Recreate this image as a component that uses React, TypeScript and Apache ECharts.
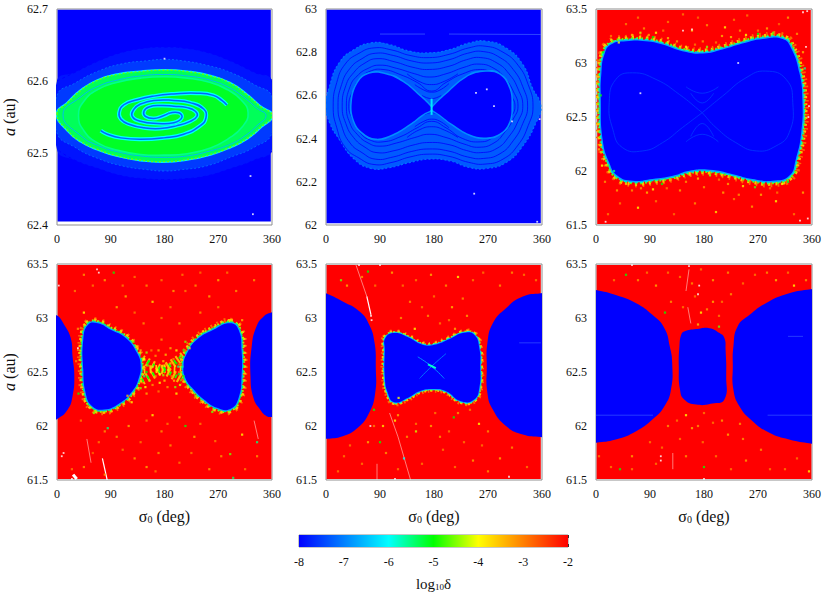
import React, { useEffect, useRef } from "react";
import * as echarts from "echarts";

type P = number[];
const FONT = '"Liberation Serif", "Times New Roman", serif';

// ---- colour scale and axes
const palette = ["#0000ff", "#0080ff", "#00ffff", "#00ff00", "#ffff00", "#ff8000", "#ff0000"];
const sigmaTicks = [0, 90, 180, 270, 360];
const colorMin = -8;
const colorMax = -2;
const yRanges = [
  [62.4, 62.7, 0.1],
  [62, 63, 0.2],
  [61.5, 63.5, 0.5],
  [61.5, 63.5, 0.5],
  [61.5, 63.5, 0.5],
  [61.5, 63.5, 0.5],
];

// ---- panel 1 (a = 62.4 .. 62.7)
const p1Field: P[] = [[1, 62.699], [358, 62.699], [358, 62.405], [1, 62.405]];
const p1HaloOuter: P[] = [[0, 62.6], [30, 62.612], [70, 62.628], [110, 62.64], [150, 62.646], [180, 62.647], [210, 62.646], [250, 62.64], [290, 62.628], [330, 62.612], [360, 62.6], [360, 62.505], [330, 62.49], [290, 62.478], [250, 62.468], [210, 62.464], [180, 62.463], [150, 62.464], [110, 62.468], [70, 62.478], [30, 62.49], [0, 62.505]];
const p1HaloInner: P[] = [[0, 62.58], [30, 62.597], [70, 62.614], [110, 62.624], [150, 62.628], [180, 62.63], [210, 62.628], [250, 62.622], [290, 62.612], [330, 62.595], [360, 62.578], [360, 62.528], [330, 62.508], [290, 62.494], [250, 62.482], [210, 62.477], [180, 62.475], [150, 62.477], [110, 62.482], [70, 62.492], [30, 62.508], [0, 62.528]];
const p1Eye: P[] = [[0, 62.554], [18, 62.57], [40, 62.587], [68, 62.601], [101, 62.609], [140, 62.613], [179, 62.615], [218, 62.613], [257, 62.607], [290, 62.597], [318, 62.581], [340, 62.565], [360, 62.552], [340, 62.535], [318, 62.52], [290, 62.508], [257, 62.498], [218, 62.491], [179, 62.488], [140, 62.49], [101, 62.496], [68, 62.505], [40, 62.516], [18, 62.531]];
const p1Ring: P[] = [[10, 62.553], [40, 62.578], [70, 62.593], [105, 62.602], [140, 62.607], [179, 62.609], [218, 62.607], [257, 62.601], [290, 62.59], [315, 62.576], [335, 62.562], [350, 62.552], [335, 62.538], [315, 62.524], [290, 62.512], [257, 62.503], [218, 62.496], [179, 62.494], [140, 62.496], [105, 62.501], [70, 62.51], [40, 62.524]];
const p1Core: P[] = [[36, 62.552], [45, 62.572], [68, 62.588], [100, 62.598], [140, 62.604], [179, 62.606], [218, 62.604], [257, 62.598], [285, 62.588], [308, 62.574], [320, 62.556], [310, 62.536], [287, 62.52], [257, 62.507], [218, 62.499], [179, 62.497], [140, 62.498], [100, 62.504], [68, 62.514], [45, 62.531]];
const p1ArmA: P[] = [[284.4, 62.5666], [276, 62.573], [262, 62.58], [234.5, 62.583], [195.6, 62.582], [162, 62.579], [134.4, 62.574], [112, 62.567], [104, 62.556], [107, 62.547], [120.6, 62.54], [145.6, 62.535], [173, 62.534], [201, 62.538], [223, 62.544], [234.5, 62.551], [231.7, 62.558], [218, 62.563], [195.6, 62.565], [173, 62.566], [154, 62.564], [145.6, 62.558], [148, 62.551], [162, 62.548], [176, 62.551], [187, 62.555]];
const p1ArmB: P[] = [[73.3, 62.531], [84.4, 62.526], [106.7, 62.521], [140, 62.519], [179, 62.521], [212, 62.526], [240, 62.538], [249.5, 62.549], [245.6, 62.561], [223, 62.57], [195.6, 62.573], [162, 62.573], [140, 62.568], [129, 62.561], [126, 62.551], [140, 62.544], [168, 62.541], [195.6, 62.542], [209, 62.549], [204, 62.556], [187, 62.555]];
const p1White: P[] = [[180, 62.631], [324, 62.468], [328, 62.415]];

// ---- panel 2 (a = 62 .. 63)
const p2Field: P[] = [[1, 62.997], [358, 62.997], [358, 62.008], [1, 62.008]];
const p2Band: P[] = [[0, 62.551], [6, 62.643], [22, 62.751], [47, 62.812], [75, 62.843], [106, 62.835], [139, 62.805], [172, 62.797], [206, 62.812], [239, 62.843], [267, 62.851], [300, 62.82], [328, 62.743], [344, 62.635], [358, 62.551], [350, 62.474], [328, 62.366], [300, 62.289], [267, 62.262], [239, 62.266], [206, 62.297], [172, 62.305], [139, 62.289], [106, 62.266], [75, 62.262], [47, 62.305], [22, 62.397], [6, 62.474]];
const p2Ring1: P[] = [[12, 62.55], [18, 62.66], [32, 62.745], [55, 62.795], [80, 62.82], [110, 62.81], [140, 62.785], [172, 62.775], [205, 62.79], [238, 62.82], [265, 62.828], [295, 62.8], [320, 62.74], [337, 62.65], [345, 62.55], [337, 62.46], [320, 62.37], [295, 62.305], [265, 62.282], [238, 62.29], [205, 62.318], [172, 62.328], [140, 62.315], [110, 62.29], [80, 62.28], [55, 62.31], [32, 62.36], [18, 62.45]];
const p2Ring2: P[] = [[20, 62.55], [26, 62.65], [40, 62.725], [60, 62.77], [82, 62.795], [112, 62.785], [142, 62.76], [172, 62.75], [205, 62.765], [236, 62.795], [262, 62.803], [290, 62.775], [312, 62.72], [328, 62.64], [336, 62.55], [328, 62.47], [312, 62.39], [290, 62.33], [262, 62.308], [236, 62.315], [205, 62.342], [172, 62.352], [142, 62.34], [112, 62.315], [82, 62.305], [60, 62.335], [40, 62.38], [26, 62.46]];
const p2Ring3: P[] = [[27, 62.55], [33, 62.645], [46, 62.705], [65, 62.75], [85, 62.77], [115, 62.755], [145, 62.73], [172, 62.72], [205, 62.735], [234, 62.765], [258, 62.775], [285, 62.75], [305, 62.7], [320, 62.63], [328, 62.55], [320, 62.48], [305, 62.41], [285, 62.355], [258, 62.335], [234, 62.345], [205, 62.372], [172, 62.382], [145, 62.37], [115, 62.345], [85, 62.335], [65, 62.36], [46, 62.405], [33, 62.47]];
const p2Ring4: P[] = [[34, 62.55], [40, 62.64], [52, 62.69], [70, 62.725], [90, 62.74], [118, 62.725], [148, 62.7], [172, 62.685], [200, 62.7], [230, 62.73], [255, 62.745], [280, 62.725], [298, 62.68], [312, 62.62], [320, 62.55], [312, 62.49], [298, 62.43], [280, 62.38], [255, 62.36], [230, 62.375], [200, 62.405], [172, 62.42], [148, 62.405], [118, 62.38], [90, 62.365], [70, 62.38], [52, 62.42], [40, 62.47]];
const p2Ring5: P[] = [[38, 62.55], [46, 62.63], [56, 62.675], [72, 62.71], [95, 62.72], [125, 62.695], [152, 62.66], [176, 62.62], [200, 62.66], [228, 62.7], [258, 62.72], [278, 62.7], [295, 62.66], [306, 62.61], [315, 62.55], [306, 62.49], [295, 62.45], [278, 62.405], [258, 62.385], [228, 62.4], [200, 62.45], [176, 62.48], [152, 62.45], [125, 62.41], [95, 62.385], [72, 62.395], [56, 62.43], [46, 62.48]];
const p2ArcT1: P[] = [[135, 62.7], [155, 62.665], [176, 62.65], [197, 62.665], [220, 62.7]];
const p2ArcT2: P[] = [[148, 62.65], [163, 62.625], [176, 62.615], [190, 62.625], [205, 62.655]];
const p2ArcT3: P[] = [[160, 62.6], [176, 62.585], [192, 62.6]];
const p2ArcB1: P[] = [[135, 62.405], [155, 62.44], [176, 62.455], [197, 62.44], [220, 62.405]];
const p2ArcB2: P[] = [[148, 62.455], [163, 62.48], [176, 62.49], [190, 62.48], [205, 62.45]];
const p2ArcB3: P[] = [[160, 62.505], [176, 62.52], [192, 62.505]];
const p2LobeL: P[] = [[176, 62.543], [156, 62.597], [128, 62.662], [100, 62.697], [72, 62.7], [53, 62.658], [43, 62.566], [47, 62.482], [61, 62.428], [83, 62.4], [111, 62.42], [139, 62.466], [161, 62.512], [176, 62.535]];
const p2LobeR: P[] = [[177, 62.543], [200, 62.605], [233, 62.682], [261, 62.708], [289, 62.697], [306, 62.628], [309, 62.551], [306, 62.482], [292, 62.428], [267, 62.405], [239, 62.42], [211, 62.466], [189, 62.512], [177, 62.535]];
const p2Cross: P[] = [[176, 62.585], [176, 62.51]];
const p2FaintLine: P[] = [[90, 62.884], [165, 62.884]];
const p2FaintLine2: P[] = [[205, 62.884], [358, 62.882]];
const p2White: P[] = [[250, 62.612], [268, 62.628], [280, 62.55], [310, 62.48], [247, 62.145], [352, 62.015], [356, 62.49]];

// ---- panel 3
const p3Field: P[] = [[2, 63.49], [358, 63.49], [358, 61.51], [2, 61.51]];
const p3Blue: P[] = [[14, 63.078], [25, 63.171], [50, 63.202], [83, 63.202], [111, 63.171], [144, 63.109], [178, 63.088], [211, 63.125], [244, 63.18], [278, 63.223], [311, 63.223], [325, 63.14], [339, 62.909], [344, 62.663], [342, 62.355], [333, 62.109], [322, 61.955], [294, 61.909], [261, 61.925], [228, 61.971], [189, 62.011], [156, 62.002], [128, 61.955], [94, 61.925], [61, 61.909], [36, 61.955], [22, 62.078], [11, 62.294], [8, 62.663], [9, 62.909]];
const p3EightL: P[] = [[177, 62.54], [139, 62.709], [100, 62.848], [61, 62.909], [33, 62.848], [22, 62.632], [28, 62.386], [44, 62.217], [78, 62.186], [111, 62.263], [144, 62.402], [177, 62.54]];
const p3EightR: P[] = [[177, 62.54], [211, 62.694], [250, 62.863], [283, 62.925], [317, 62.848], [328, 62.632], [322, 62.355], [300, 62.232], [267, 62.186], [233, 62.263], [200, 62.402], [177, 62.54]];
const p3ArcT: P[] = [[158, 62.72], [177, 62.63], [196, 62.72]];
const p3ArcT2: P[] = [[150, 62.78], [177, 62.72], [204, 62.78]];
const p3ArcB: P[] = [[158, 62.32], [177, 62.44], [196, 62.32]];
const p3ArcB2: P[] = [[150, 62.27], [177, 62.34], [204, 62.27]];
const p3Specks: P[] = [[120, 63.38, -3], [170, 63.42, -2.9], [160, 63.3, -3.4], [230, 63.4, -3], [215, 63.33, -4], [270, 63.3, -3], [305, 63.36, -2.8], [335, 63.27, -3.2], [80, 63.32, -3.2], [50, 63.36, -3], [100, 63.28, -4], [95, 63.24, -5], [60, 63.26, -3.5], [135, 63.2, -3.3], [150, 63.15, -4], [165, 63.17, -3], [185, 63.15, -4.5], [200, 63.19, -3], [225, 63.24, -3.5], [250, 63.26, -4], [270, 63.27, -5], [295, 63.28, -4.6], [38, 63.19, -4], [25, 63.25, -3], [12, 63.1, -5], [345, 63.1, -3.4], [348, 62.95, -5.6], [8, 62.7, -5], [5, 62.2, -3.4], [10, 62.05, -4], [30, 62, -5.5], [50, 61.88, -3.5], [75, 61.84, -3.2], [95, 61.83, -4], [110, 61.88, -5], [125, 61.92, -3], [150, 61.9, -3.2], [170, 61.93, -3.6], [190, 61.96, -4.5], [205, 61.92, -3], [220, 61.88, -3.3], [245, 61.86, -3.8], [265, 61.85, -4.7], [290, 61.84, -3], [310, 61.88, -4], [320, 61.9, -5.2], [40, 61.7, -3], [20, 61.6, -3], [70, 61.66, -4], [100, 61.72, -3], [130, 61.6, -2.9], [165, 61.7, -3.2], [200, 61.62, -3.8], [230, 61.74, -3], [260, 61.67, -3.3], [300, 61.72, -4], [330, 61.6, -3], [345, 61.8, -3.4], [70, 63.42, -3], [145, 63.45, -3], [185, 63.35, -3.2], [252, 63.44, -3], [320, 63.42, -3.3], [112, 63.3, -3], [88, 63.26, -3.3], [74, 63.28, -4.2], [120, 63.23, -3.5], [178, 63.2, -3.2], [210, 63.25, -3.4], [240, 63.3, -3.2], [285, 63.32, -3.4], [60, 61.82, -3.2], [85, 61.8, -3.5], [118, 61.84, -3], [140, 61.82, -3.3], [180, 61.85, -3.2], [212, 61.8, -3.4], [238, 61.78, -3.2], [275, 61.78, -3.4], [302, 61.8, -3], [35, 61.82, -3.3], [15, 61.9, -3.2]];
const p3White: P[] = [[160, 63.31], [237, 63.0], [74, 62.72], [350, 63.15], [355, 62.6], [354, 62.5], [353, 61.56], [16, 61.53], [340, 61.54], [345, 63.47], [352, 63.48], [145, 63.3]];

// ---- panel 4
const p4Field: P[] = [[1, 63.49], [359, 63.49], [359, 61.51], [1, 61.51]];
const p4Left: P[] = [[-6, 63.02], [1, 63.02], [12, 62.937], [23, 62.814], [26, 62.645], [29, 62.46], [26, 62.275], [18, 62.152], [1, 62.066], [-6, 62.066]];
const p4Right: P[] = [[366, 63.051], [359, 63.051], [346, 63.014], [334, 62.921], [326, 62.737], [324, 62.46], [329, 62.26], [340, 62.152], [351, 62.09], [359, 62.084], [366, 62.084]];
const p4LobeL: P[] = [[52, 62.937], [68, 62.952], [90, 62.891], [115, 62.814], [134, 62.675], [140, 62.568], [137, 62.445], [126, 62.322], [104, 62.208], [79, 62.152], [59, 62.183], [48, 62.306], [44, 62.522], [44, 62.798]];
const p4LobeR: P[] = [[290, 62.952], [304, 62.891], [309, 62.706], [309, 62.46], [304, 62.26], [290, 62.158], [268, 62.168], [246, 62.245], [229, 62.337], [215, 62.445], [212, 62.568], [218, 62.675], [234, 62.798], [262, 62.891]];
const p4CloudA: P[] = [[142, 62.62], [165, 62.55], [185, 62.5], [212, 62.42]];
const p4CloudB: P[] = [[142, 62.42], [165, 62.49], [188, 62.56], [212, 62.65]];
const p4CloudC: P[] = [[145, 62.52], [178, 62.53], [210, 62.52]];
const p4Cloud: P[] = [[146, 62.62, -4], [150, 62.5, -5], [155, 62.42, -4.4], [160, 62.55, -3.8], [165, 62.65, -3.2], [172, 62.48, -4], [178, 62.6, -3.5], [180, 62.42, -3.6], [186, 62.52, -4.2], [192, 62.46, -3], [195, 62.62, -3], [200, 62.58, -5], [204, 62.48, -5.2], [207, 62.65, -4.6], [210, 62.55, -5.5], [206, 62.38, -4.2], [140, 62.35, -4.5], [135, 62.72, -3.8], [128, 62.78, -4.6], [215, 62.78, -4.5], [222, 62.72, -3.8], [232, 62.28, -4.5], [125, 62.22, -4], [118, 62.28, -3.5], [150, 62.3, -3.4], [170, 62.32, -3], [158, 62.7, -3], [175, 62.8, -3.2], [190, 62.72, -3.4], [200, 62.3, -4], [146, 62.46, -5.4], [154, 62.6, -5], [168, 62.52, -4], [196, 62.42, -3.5], [203, 62.55, -5.6], [45, 63.05, -4], [35, 62.9, -3.2], [32, 62.6, -3], [36, 62.3, -5], [62, 62.12, -4.5], [260, 62.13, -4.6], [310, 62.98, -3.4], [148, 62.36, -4], [160, 62.38, -3.2], [172, 62.4, -4], [185, 62.36, -3.2], [198, 62.36, -4.5], [140, 62.7, -3.4], [150, 62.68, -4.4], [170, 62.7, -3.4], [182, 62.66, -3.5], [200, 62.7, -4], [212, 62.7, -4.8], [152, 62.56, -4.6], [180, 62.56, -4], [190, 62.58, -3.6], [165, 62.46, -3.2], [178, 62.47, -4.4], [212, 62.46, -5]];
const p4Specks: P[] = [[95, 63.42, -5], [130, 63.38, -3], [150, 63.3, -3.2], [210, 63.4, -3], [240, 63.42, -2.9], [270, 63.35, -3.4], [300, 63.25, -3.2], [115, 63.2, -3.5], [160, 63.15, -3.8], [215, 63.25, -3], [255, 63.2, -3.4], [190, 63.1, -3], [60, 63.3, -3], [30, 63.25, -3], [40, 62.05, -3], [80, 61.95, -3.2], [120, 62, -3.4], [85, 61.98, -5.5], [160, 62.1, -4], [185, 62.02, -3], [215, 62, -5], [230, 61.9, -3.4], [265, 61.86, -3], [310, 61.92, -4], [335, 61.85, -5.5], [140, 61.85, -3], [170, 61.75, -3.2], [110, 61.78, -3], [60, 61.75, -2.8], [25, 61.6, -3], [80, 61.55, -3.3], [150, 61.62, -3.4], [205, 61.66, -3], [255, 61.6, -3.3], [290, 61.74, -4.6], [295, 61.52, -5.4], [335, 61.72, -3.2], [165, 61.58, -3], [45, 63.4, -3.2], [80, 63.35, -3.3], [110, 63.3, -3], [175, 63.35, -3], [195, 63.25, -3.3], [232, 63.3, -3.2], [285, 63.42, -3], [330, 63.35, -3.2], [175, 63.0, -3], [145, 62.95, -3.2], [205, 62.95, -3.3], [130, 63.05, -3], [240, 63.05, -3.2], [100, 63.1, -3.4], [270, 63.1, -3], [150, 62.05, -3], [175, 61.95, -3.2], [205, 62.08, -3.3], [240, 62.02, -3], [100, 61.9, -3.2], [70, 61.85, -3], [45, 61.62, -3.2], [130, 61.7, -3.3], [190, 61.82, -3.2], [225, 61.75, -3], [275, 61.72, -3.2], [315, 61.6, -3]];
const p4GapA: P[] = [[50, 61.88], [57, 61.66]];
const p4GapB: P[] = [[76, 61.7], [84, 61.5]];
const p4GapC: P[] = [[330, 62.05], [337, 61.88]];
const p4GapD: P[] = [[27, 61.55], [33, 61.51]];
const p4White: P[] = [[8, 61.72], [11, 61.75], [35, 62.72], [28, 61.54], [25, 61.51], [67, 63.45], [70, 63.42], [3, 63.3]];

// ---- panel 5
const p5Field: P[] = [[1, 63.49], [358, 63.49], [358, 61.51], [1, 61.51]];
const p5Left: P[] = [[-6, 63.229], [0, 63.229], [28, 63.152], [56, 63.06], [72, 62.937], [81, 62.768], [83, 62.552], [82, 62.306], [72, 62.122], [53, 61.983], [28, 61.906], [0, 61.881], [-6, 61.881]];
const p5Right: P[] = [[366, 63.229], [358, 63.229], [328, 63.198], [300, 63.091], [278, 62.952], [269, 62.768], [268, 62.552], [269, 62.306], [278, 62.152], [300, 62], [328, 61.921], [358, 61.897], [366, 61.897]];
const p5Mid: P[] = [[99, 62.814], [114, 62.86], [136, 62.823], [161, 62.752], [181, 62.752], [206, 62.805], [228, 62.86], [247, 62.845], [256, 62.706], [257, 62.552], [256, 62.368], [247, 62.245], [225, 62.229], [200, 62.322], [178, 62.343], [156, 62.322], [136, 62.26], [114, 62.22], [103, 62.306], [98, 62.46], [98, 62.706]];
const p5CrossA: P[] = [[153, 62.64], [176, 62.552], [197, 62.44]];
const p5CrossB: P[] = [[156, 62.44], [176, 62.552], [200, 62.67]];
const p5CrossC: P[] = [[170, 62.57], [183, 62.535]];
const p5GapA: P[] = [[50, 63.49], [68, 63.2]];
const p5GapA2: P[] = [[68, 63.2], [75, 63.03]];
const p5GapB: P[] = [[106, 62.12], [120, 61.9], [141, 61.5]];
const p5GapC: P[] = [[85, 61.65], [85, 61.5]];
const p5GapD: P[] = [[322, 62.77], [358, 62.77]];
const p5Specks: P[] = [[70, 63.43, -5], [82, 63.3, -3], [25, 63.35, -4.6], [35, 63.3, -3.4], [110, 63.42, -3.4], [150, 63.35, -3], [175, 63.4, -3.4], [220, 63.38, -4], [262, 63.42, -3], [290, 63.3, -3.2], [330, 63.4, -3], [160, 63.1, -3], [210, 63.1, -3.5], [125, 63.0, -3.2], [235, 63.02, -3.3], [190, 62.95, -3], [148, 62.9, -4], [215, 62.9, -3.4], [120, 62.1, -3.4], [115, 62.05, -4], [182, 62.12, -3], [213, 62.08, -5], [240, 62.15, -3], [255, 62.02, -4], [150, 61.95, -4.2], [190, 61.9, -3.2], [230, 61.85, -3], [270, 61.95, -3.2], [80, 62, -3], [70, 61.85, -3.4], [30, 61.72, -3], [60, 61.65, -3], [90, 61.85, -5], [130, 61.7, -6], [120, 61.6, -3], [160, 61.65, -3], [195, 61.78, -3], [245, 61.68, -3.3], [290, 61.7, -3.4], [335, 61.62, -3], [95, 62, -3.8], [121, 62.26, -4], [80, 62.15, -5], [60, 63.38, -3.2], [128, 63.3, -3], [200, 63.3, -3.2], [245, 63.35, -3], [310, 63.42, -3.2], [350, 63.35, -3], [140, 63.15, -3.2], [180, 63.2, -3], [228, 63.18, -3.2], [170, 63.02, -3.2], [205, 62.98, -3], [150, 62.02, -3], [175, 62, -3.3], [220, 62.12, -3.2], [205, 61.95, -3], [135, 61.9, -3.2], [260, 61.82, -3], [310, 61.8, -3.2], [40, 61.82, -3], [100, 61.75, -3.2], [215, 61.62, -3], [270, 61.58, -3.2], [20, 61.58, -3]];
const p5White: P[] = [[76, 62.98], [75, 63.02], [74, 62.0], [305, 61.53], [115, 61.51], [90, 63.49], [55, 63.49]];

// ---- panel 6
const p6Field: P[] = [[1, 63.49], [359, 63.49], [359, 61.51], [1, 61.51]];
const p6Left: P[] = [[-6, 63.26], [0, 63.26], [33, 63.214], [67, 63.137], [94, 63.029], [114, 62.906], [123, 62.737], [127, 62.583], [125, 62.337], [114, 62.183], [94, 62.06], [67, 61.952], [33, 61.875], [0, 61.845], [-6, 61.845]];
const p6Right: P[] = [[366, 63.266], [358, 63.266], [322, 63.229], [283, 63.137], [256, 63.029], [236, 62.921], [229, 62.737], [228, 62.552], [229, 62.337], [239, 62.183], [261, 62.045], [289, 61.937], [322, 61.875], [358, 61.838], [366, 61.838]];
const p6Mid: P[] = [[147, 62.875], [167, 62.897], [189, 62.906], [206, 62.86], [214, 62.814], [216, 62.706], [217, 62.46], [214, 62.245], [194, 62.208], [167, 62.198], [147, 62.245], [140, 62.337], [138, 62.552], [139, 62.737], [142, 62.845]];
const p6GapA: P[] = [[0, 62.1], [95, 62.1]];
const p6GapB: P[] = [[286, 62.1], [360, 62.1]];
const p6GapC: P[] = [[320, 62.83], [345, 62.83]];
const p6GapD: P[] = [[128, 61.75], [128, 61.6]];
const p6GapE: P[] = [[153, 63.1], [158, 62.95]];
const p6GapF: P[] = [[155, 63.45], [150, 63.25]];
const p6Specks: P[] = [[50, 63.4, -5], [30, 63.35, -3], [85, 63.42, -3], [100, 63.3, -3.4], [140, 63.38, -3], [175, 63.45, -3], [195, 63.35, -3.3], [220, 63.42, -3.2], [265, 63.4, -3], [300, 63.35, -3.5], [330, 63.3, -4], [125, 63.15, -3.2], [165, 63.2, -3], [195, 63.15, -3.4], [225, 63.22, -3.2], [175, 63.05, -4], [205, 63.02, -3], [115, 63.05, -5], [205, 62.92, -4.6], [170, 62.94, -3.5], [150, 62.1, -4], [180, 62.12, -3], [195, 62.03, -3], [160, 61.98, -3.4], [120, 62, -3.2], [240, 62.02, -3.2], [220, 61.92, -3.4], [90, 61.85, -3], [60, 61.72, -3.3], [40, 61.6, -5], [100, 61.65, -3], [180, 61.62, -5], [200, 61.72, -3], [250, 61.68, -3.3], [290, 61.6, -3], [335, 61.7, -3], [355, 61.58, -4], [5, 61.72, -3], [178, 61.85, -3], [70, 63.35, -3.2], [120, 63.42, -3], [160, 63.32, -3.2], [245, 63.32, -3], [285, 63.42, -3.2], [320, 63.42, -3], [350, 63.35, -3.2], [145, 63.1, -3], [185, 63.08, -3.2], [210, 63.15, -3], [135, 62.05, -3], [170, 62, -3.2], [210, 62.05, -3.3], [140, 61.88, -3], [245, 61.88, -3.2], [110, 61.8, -3], [60, 61.6, -3], [25, 61.62, -3], [150, 61.72, -3.2], [225, 61.6, -3], [275, 61.78, -3.2], [315, 61.6, -3]];
const p6White: P[] = [[108, 61.72], [108, 61.68], [170, 63.22], [172, 63.3], [155, 63.48], [60, 63.49], [180, 61.51]];

// ---- layer helpers
type Layer = { pts: P[]; level: number; fill?: boolean; width?: number; dash?: number[]; closed?: boolean; smooth?: number; color?: string };
const ROUND = 0.5;
const fillOf = (pts: P[], level: number, smooth = ROUND): Layer => ({ pts, level, fill: true, closed: true, smooth });
const ringOf = (pts: P[], level: number, width: number, dash?: number[]): Layer => ({ pts, level, width, dash, closed: true, smooth: ROUND });
const lineOf = (pts: P[], level: number, width: number, dash?: number[]): Layer => ({ pts, level, width, dash, closed: false, smooth: ROUND });
const gapOf = (pts: P[], width = 0.8, color = "rgba(255,225,215,0.7)"): Layer => ({ pts, level: -2, width, closed: false, smooth: 0, color });
const FAINT_BLUE = "rgba(90,140,255,0.7)";
const fringed = (pts: P[], near: number, mid: number, w: number): Layer[] => [
  ringOf(pts, -2.8, w * 4.2, [1.6, 5.3]),
  ringOf(pts, -3.5, w * 3.2, [2.1, 4.7]),
  ringOf(pts, mid, w * 2.3, [1.7, 3.1]),
  ringOf(pts, near, w * 1.5, [3.3, 1.9]),
  ringOf(pts, -6.7, w * 0.9),
  fillOf(pts, -8),
];

const panelLayers: Layer[][] = [
  [
    fillOf(p1Field, -8, 0),
    fillOf(p1HaloOuter, -7.85),
    lineOf(p1HaloOuter, -8, 1, [3, 3]),
    fillOf(p1HaloInner, -7.55),
    ringOf(p1HaloInner, -7.2, 1, [2, 2]),
    ringOf(p1Eye, -6.1, 2.5),
    fillOf(p1Eye, -5.35),
    ringOf(p1Eye, -4.6, 1.4, [2, 2]),
    ringOf(p1Ring, -6.6, 0.9),
    fillOf(p1Core, -5.15),
    ringOf(p1Core, -5.55, 1.6),
    lineOf(p1ArmA, -6.0, 4),
    lineOf(p1ArmB, -6.0, 4),
    lineOf(p1ArmA, -7.2, 1.5),
    lineOf(p1ArmB, -7.2, 1.5),
  ],
  [
    fillOf(p2Field, -8, 0),
    fillOf(p2Band, -7.3),
    ringOf(p2Band, -7.1, 1.2, [2, 2]),
    ringOf(p2Ring1, -8, 0.8),
    ringOf(p2Ring2, -8, 0.8),
    ringOf(p2Ring3, -8, 0.8),
    ringOf(p2Ring4, -8, 0.8),
    ringOf(p2Ring5, -8, 0.8),
    lineOf(p2ArcT1, -8, 0.8),
    lineOf(p2ArcT2, -8, 0.8),
    lineOf(p2ArcT3, -8, 0.8),
    lineOf(p2ArcB1, -8, 0.8),
    lineOf(p2ArcB2, -8, 0.8),
    lineOf(p2ArcB3, -8, 0.8),
    ringOf(p2LobeL, -6.9, 3),
    ringOf(p2LobeR, -6.9, 3),
    fillOf(p2LobeL, -8, 0.4),
    fillOf(p2LobeR, -8, 0.4),
    lineOf(p2Cross, -6.2, 2),
    gapOf(p2FaintLine, 0.7, FAINT_BLUE),
    gapOf(p2FaintLine2, 0.7, FAINT_BLUE),
  ],
  [
    fillOf(p3Field, -2, 0),
    ...fringed(p3Blue, -5.7, -4.6, 3),
    ringOf(p3EightL, -7.6, 0.9),
    ringOf(p3EightR, -7.6, 0.9),
    lineOf(p3ArcT, -7.6, 0.9),
    lineOf(p3ArcT2, -7.6, 0.9),
    lineOf(p3ArcB, -7.6, 0.9),
    lineOf(p3ArcB2, -7.6, 0.9),
  ],
  [
    fillOf(p4Field, -2, 0),
    lineOf(p4CloudA, -3.4, 9, [2.1, 3.7]),
    lineOf(p4CloudB, -3.4, 9, [2.1, 3.7]),
    lineOf(p4CloudC, -3.6, 8, [1.7, 4.3]),
    lineOf(p4CloudA, -4.9, 4, [1.9, 4.3]),
    lineOf(p4CloudB, -4.9, 4, [1.9, 4.3]),
    fillOf(p4Left, -8),
    fillOf(p4Right, -8),
    ...fringed(p4LobeL, -5.4, -4.4, 2.6),
    ...fringed(p4LobeR, -5.4, -4.4, 2.6),
    gapOf(p4GapA),
    gapOf(p4GapB, 1.2, "#fff"),
    gapOf(p4GapC),
    gapOf(p4GapD, 3, "#fff"),
  ],
  [
    fillOf(p5Field, -2, 0),
    fillOf(p5Left, -8),
    fillOf(p5Right, -8),
    ...fringed(p5Mid, -5.8, -4.4, 1.8),
    lineOf(p5CrossA, -6.9, 1),
    lineOf(p5CrossB, -7.1, 1),
    lineOf(p5CrossC, -5.8, 2),
    gapOf(p5GapA),
    gapOf(p5GapA2, 1.2, "#fff"),
    gapOf(p5GapB),
    gapOf(p5GapC),
    gapOf(p5GapD, 0.6, FAINT_BLUE),
  ],
  [
    fillOf(p6Field, -2, 0),
    fillOf(p6Left, -8),
    fillOf(p6Right, -8),
    fillOf(p6Mid, -8),
    gapOf(p6GapA, 0.6, FAINT_BLUE),
    gapOf(p6GapB, 0.6, FAINT_BLUE),
    gapOf(p6GapC, 0.6, FAINT_BLUE),
    gapOf(p6GapD),
    gapOf(p6GapE),
    gapOf(p6GapF),
  ],
];

const panelSpecks: P[][] = [[], [], p3Specks, [...p4Cloud, ...p4Specks], p5Specks, p6Specks];
const panelWhite: P[][] = [p1White, p2White, p3White, p4White, p5White, p6White];

// ---- layout
const gridLeft = [56, 326, 596];
const gridTop = [9, 264];
const gridSize = 216;

export default function App() {
  const ref = useRef<HTMLDivElement>(null);
  useEffect(() => {
    const chart = echarts.init(ref.current!, undefined, { renderer: "svg" });
    const grids: any[] = [];
    const xAxes: any[] = [];
    const yAxes: any[] = [];
    const series: any[] = [];
    const mapped: number[] = [];
    const frame = "#8f8f8f";
    const labelStyle = { color: "#111", fontFamily: FONT, fontSize: 12 };
    const nameRich = {
      i: { fontFamily: FONT, fontSize: 16, fontStyle: "italic", color: "#111" },
      t: { fontFamily: FONT, fontSize: 16, color: "#111" },
      s: { fontFamily: FONT, fontSize: 10, color: "#111", verticalAlign: "bottom", padding: [6, 0, 0, 0] },
    };

    yRanges.forEach((range, i) => {
      const col = i % 3;
      const row = i < 3 ? 0 : 1;
      grids.push({ show: true, left: gridLeft[col], top: gridTop[row], width: gridSize, height: gridSize, borderColor: frame, borderWidth: 1, backgroundColor: "#fff" });
      xAxes.push({
        gridIndex: i, type: "value", min: 0, max: 360, interval: 90,
        axisLine: { show: false }, axisTick: { show: false }, splitLine: { show: false },
        axisLabel: { ...labelStyle, margin: 8, customValues: sigmaTicks },
        ...(row === 1 ? {
          name: "{t|σ}{s|0}{t| (deg)}", nameLocation: "middle", nameGap: 28,
          nameTextStyle: { rich: nameRich },
        } : {}),
      });
      yAxes.push({
        gridIndex: i, type: "value", min: range[0], max: range[1], interval: range[2],
        axisLine: { show: false }, axisTick: { show: false }, splitLine: { show: false },
        axisLabel: { ...labelStyle, margin: 9 },
        ...(col === 0 ? {
          name: "{i|a}{t| (au)}", nameLocation: "middle", nameGap: 40, nameRotate: 90,
          nameTextStyle: { rich: nameRich },
        } : {}),
      });
      const layers = panelLayers[i];
      mapped.push(series.length);
      series.push({
        type: "custom", xAxisIndex: i, yAxisIndex: i, clip: true, silent: true, z: 2,
        encode: { x: 0, y: 1 },
        data: layers.map((l) => [l.pts[0][0], l.pts[0][1], l.level]),
        renderItem: (params: any, api: any) => {
          const l = layers[params.dataIndex];
          const color = l.color || api.visual("color");
          const points = l.pts.map((p) => api.coord([p[0], p[1]]));
          return {
            type: l.closed ? "polygon" : "polyline",
            shape: { points, smooth: l.smooth || 0, smoothConstraint: false },
            style: {
              fill: l.fill ? color : "none",
              stroke: l.fill ? "none" : color,
              lineWidth: l.width || 0,
              lineDash: l.dash || null,
            },
          };
        },
      });
      if (panelSpecks[i].length) {
        mapped.push(series.length);
        series.push({
          type: "scatter", xAxisIndex: i, yAxisIndex: i, clip: true, silent: true, z: 3,
          symbol: "rect", symbolSize: 2.2, data: panelSpecks[i],
        });
      }
      series.push({
        type: "scatter", xAxisIndex: i, yAxisIndex: i, clip: true, silent: true, z: 3,
        symbol: "rect", symbolSize: 1.8, itemStyle: { color: "#fff" }, data: panelWhite[i],
      });
    });

    // colour bar
    const barIndex = 6;
    grids.push({ show: true, left: 299, top: 535, width: 269, height: 13, borderColor: frame, borderWidth: 1 });
    const barTicks = { show: true, inside: true, length: 3, lineStyle: { color: "#333", width: 1 } };
    xAxes.push({
      gridIndex: barIndex, type: "value", min: colorMin, max: colorMax, interval: 1,
      axisLine: { show: false }, axisTick: barTicks, splitLine: { show: false },
      axisLabel: { ...labelStyle, margin: 9, showMinLabel: true, showMaxLabel: true },
      name: "{t|log}{s|10}{t|δ}", nameLocation: "middle", nameGap: 29,
      nameTextStyle: { rich: { ...nameRich, t: { ...nameRich.t, fontSize: 15 }, s: { ...nameRich.s, fontSize: 9 } } },
    });
    yAxes.push({ gridIndex: barIndex, type: "value", min: 0, max: 1, show: false });
    xAxes.push({
      gridIndex: barIndex, type: "value", position: "top", min: colorMin, max: colorMax, interval: 1,
      axisLine: { show: false }, axisTick: barTicks, axisLabel: { show: false }, splitLine: { show: false },
    });
    series.push({
      type: "custom", xAxisIndex: 6, yAxisIndex: 6, clip: true, silent: true, z: 1,
      encode: { x: 0, y: 1 },
      data: [[colorMin, 0, colorMax, 1]],
      renderItem: (_: any, api: any) => {
        const a = api.coord([api.value(0), api.value(1)]);
        const b = api.coord([api.value(2), api.value(3)]);
        return {
          type: "rect",
          shape: { x: a[0], y: b[1], width: b[0] - a[0], height: a[1] - b[1] },
          style: {
            fill: new echarts.graphic.LinearGradient(0, 0, 1, 0,
              palette.map((color, k) => ({ offset: k / (palette.length - 1), color }))),
          },
        };
      },
    });

    chart.setOption({
      animation: false,
      backgroundColor: "#fff",
      textStyle: { fontFamily: FONT },
      grid: grids,
      xAxis: xAxes,
      yAxis: yAxes,
      visualMap: {
        show: false, type: "continuous", min: colorMin, max: colorMax, dimension: 2,
        seriesIndex: mapped, inRange: { color: palette },
      },
      series,
    });
    return () => chart.dispose();
  }, []);
  return <div ref={ref} style={{ position: "absolute", left: 0, top: 0, width: 830, height: 592 }} />;
}
